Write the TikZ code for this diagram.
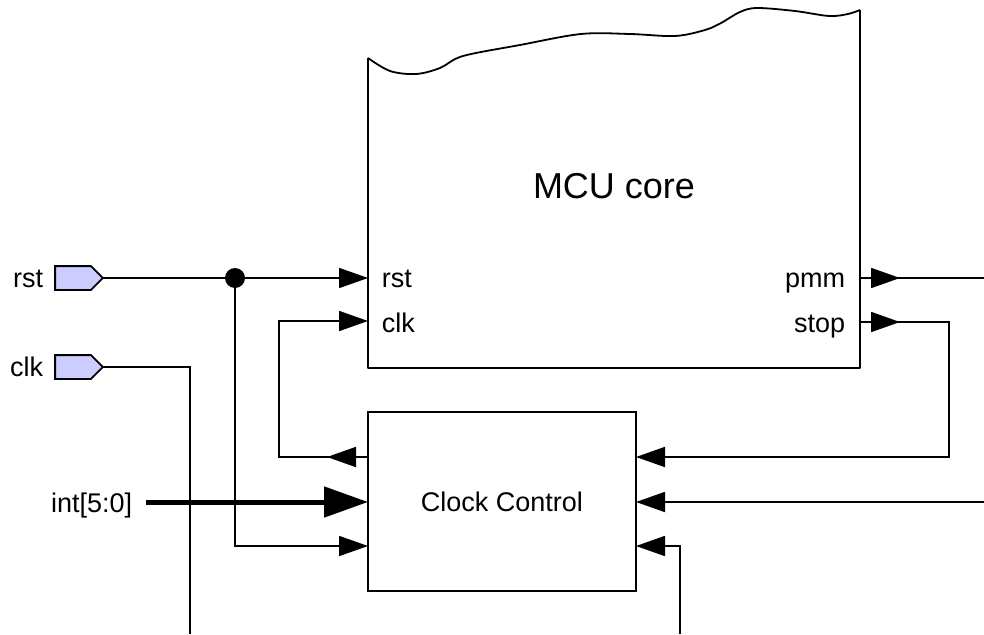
\documentclass[tikz,border=0pt]{standalone}
\usepackage{fontspec}
\setmainfont{Liberation Sans}
\usetikzlibrary{arrows.meta}
\definecolor{portfill}{RGB}{204,204,255}
\begin{document}
\begin{tikzpicture}[x=1pt,y=-1pt, line width=1.8pt,
  tip/.style={-{Triangle[length=29pt,width=20pt]}},
  bustip/.style={-{Triangle[length=44pt,width=30pt]}},
  portbox/.style={minimum width=46pt, minimum height=22pt, inner sep=0pt},
  portshape/.style={draw, fill=portfill, line join=miter},
  lbl/.style={font=\fontsize{27}{30}\selectfont, inner sep=0pt},
  big/.style={font=\fontsize{36}{40}\selectfont, inner sep=0pt},
  blk/.style={draw, font=\fontsize{27}{30}\selectfont, inner sep=0pt}
]
\useasboundingbox (0,0) rectangle (984,634);

% MCU core outline with wavy top
\draw[line join=round] (368,58) -- (368,368) -- (860,368) -- (860,10)
  plot[smooth, tension=0.55] coordinates {(860,10) (848,14) (829,16) (795,11) (757,8) (740,12) (721,23) (705,30) (675,36) (630,34) (581,34) (520,45) (463,56) (440,68) (416,74) (390,71) (368,58)};
\node[big, anchor=base] (mcu) at (614,198) {MCU core};

% pin coordinates of MCU core
\coordinate (mcurst) at (368,278);
\coordinate (mcuclk) at (368,321);
\coordinate (mcupmm) at (860,278);
\coordinate (mcustop) at (860,322);
\node[lbl, anchor=base west] (lrst) at (381,287) {rst};
\node[lbl, anchor=base west] (lclk) at (381,332) {clk};
\node[lbl, anchor=base east] (lpmm) at (846,287) {pmm};
\node[lbl, anchor=base east] (lstop) at (846,332) {stop};

% Clock Control block
\node[blk, minimum width=268pt, minimum height=179pt] (cc) at (502,501.5) {Clock Control};
\coordinate (ccout) at (368,457);
\coordinate (ccint) at (368,502);
\coordinate (ccrst) at (368,546);
\coordinate (ccin1) at (636,457);
\coordinate (ccin2) at (636,502);
\coordinate (ccin3) at (636,546);

% ports
\node[portbox] (prst) at (79,278) {};
\node[portbox] (pclk) at (79,367) {};
\foreach \p in {prst,pclk}{
  \draw[portshape] (\p.north west) -- ([xshift=-12pt]\p.north east) -- (\p.east)
    -- ([xshift=-12pt]\p.south east) -- (\p.south west) -- cycle;
}
\node[lbl, anchor=base east] (trst) at (44,287) {rst};
\node[lbl, anchor=base east] (tclk) at (44,376) {clk};
\node[lbl, anchor=base east] (tint) at (133,512) {int[5:0]};

% free ends
\coordinate (intin) at (146,502);
\coordinate (clkend) at (190,634);
\coordinate (pmmend) at (984,278);
\coordinate (rin2) at (984,502);
\coordinate (bin3) at (680,634);
\coordinate (fbx) at (279,457);
\coordinate (stopx) at (949,457);

% junction
\node[circle, fill, inner sep=0pt, minimum size=20pt] (jn) at (235,278) {};

% connectors
\draw (prst.east) -- (jn.center);
\draw[tip] (jn.center) -- (mcurst);
\draw[tip] (jn.center) |- (ccrst);
\draw (pclk.east) -| (clkend);
\draw[tip] (ccout) -- (fbx) |- (mcuclk);
\draw[tip] (ccout) -- ++(-41,0);
\draw[line width=5pt, bustip] (intin) -- (ccint);
\draw (mcupmm) -- (pmmend);
\draw[tip] (mcupmm) -- ++(40,0);
\draw[tip] (mcustop) -| (stopx) -- (ccin1);
\draw[tip] (mcustop) -- ++(40,0);
\draw[tip] (rin2) -- (ccin2);
\draw[tip] (bin3) |- (ccin3);
\end{tikzpicture}
\end{document}
